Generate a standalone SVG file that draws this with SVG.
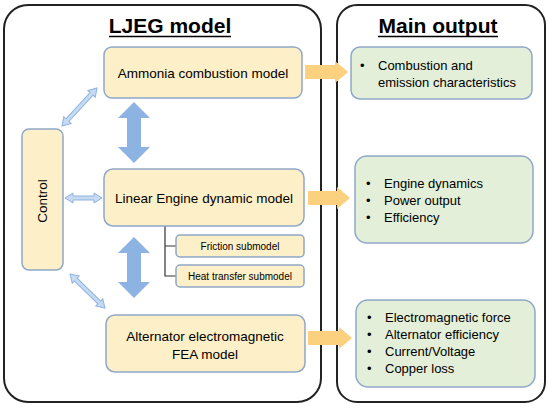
<svg xmlns="http://www.w3.org/2000/svg" width="550" height="410" viewBox="0 0 550 410">
<style>
.panel{fill:#fff;stroke:#222;stroke-width:2}
.ybox{fill:#fdefc7;stroke:#8fa8c8;stroke-width:1.5}
.gbox{fill:#e3efd9;stroke:#8fa8c8;stroke-width:1.5}
.t{font-family:"Liberation Sans",Arial,sans-serif;fill:#000}
.title{font-family:"Liberation Sans",Arial,sans-serif;font-weight:bold;font-size:21px;fill:#000}
.big{fill:#8db3e2}
.thin{fill:#c6daf2;stroke:#8db3e2;stroke-width:1}
.orange{fill:#fbd07e}
.tree{fill:none;stroke:#333;stroke-width:1.2}
</style>
<rect width="550" height="410" fill="#fff"/>
<g id="panel-ljeg">
<rect class="panel" x="4" y="5" width="317" height="397" rx="24"/>
<text class="title" x="170" y="33" text-anchor="middle">LJEG model</text>
<line x1="109" y1="36.5" x2="231" y2="36.5" stroke="#000" stroke-width="1.6"/>
</g>
<g id="panel-output">
<rect class="panel" x="337" y="5" width="208" height="397" rx="20"/>
<text class="title" x="438" y="33" text-anchor="middle">Main output</text>
<line x1="378" y1="36.5" x2="498" y2="36.5" stroke="#000" stroke-width="1.6"/>
</g>
<g id="connectors">
<polygon class="big" points="134,102 150,118 141,118 141,147 150,147 134,163 118,147 127,147 127,118 118,118"/>
<polygon class="big" points="134,237 150,253 141,253 141,282 150,282 134,298 118,282 127,282 127,253 118,253"/>
<g transform="translate(62,126) rotate(-47.4)"><polygon class="thin" points="0,0 8,-5 8,-2 43.7,-2 43.7,-5 51.7,0 43.7,5 43.7,2 8,2 8,5"/></g>
<g transform="translate(65,198)"><polygon class="thin" points="0,0 8,-5 8,-2 29,-2 29,-5 37,0 29,5 29,2 8,2 8,5"/></g>
<g transform="translate(70,274) rotate(44.2)"><polygon class="thin" points="0,0 8,-5 8,-2 40.8,-2 40.8,-5 48.8,0 40.8,5 40.8,2 8,2 8,5"/></g>
<path class="tree" d="M165,226 V276 H176 M165,246 H176"/>
<polygon class="orange" points="305,65 335,65 335,61 348,72 335,83 335,79 305,79"/>
<polygon class="orange" points="308,191 337,191 337,187 350,198 337,209 337,205 308,205"/>
<polygon class="orange" points="308,331 339,331 339,327 352,338 339,349 339,345 308,345"/>
</g>
<g id="ammonia">
<rect class="ybox" x="104" y="47" width="198" height="51" rx="8"/>
<text class="t" x="203" y="78" font-size="13.5" text-anchor="middle">Ammonia combustion model</text>
</g>
<g id="control">
<rect class="ybox" x="22" y="129" width="41" height="141" rx="7"/>
<text class="t" x="0" y="0" font-size="13.5" text-anchor="middle" transform="translate(47,201) rotate(-90)">Control</text>
</g>
<g id="linear">
<rect class="ybox" x="104" y="169" width="200" height="57" rx="9"/>
<text class="t" x="204" y="203" font-size="13.5" text-anchor="middle">Linear Engine dynamic model</text>
</g>
<g id="friction">
<rect class="ybox" x="176" y="235" width="128" height="22" rx="4"/>
<text class="t" x="240" y="250" font-size="10" text-anchor="middle">Friction submodel</text>
</g>
<g id="heat">
<rect class="ybox" x="176" y="265" width="128" height="22" rx="4"/>
<text class="t" x="240" y="280" font-size="10" text-anchor="middle">Heat transfer submodel</text>
</g>
<g id="alternator">
<rect class="ybox" x="106" y="315" width="199" height="57" rx="9"/>
<text class="t" x="205" y="341" font-size="13.5" text-anchor="middle">Alternator electromagnetic</text>
<text class="t" x="205" y="359" font-size="13.5" text-anchor="middle">FEA model</text>
</g>
<g id="out-combustion">
<rect class="gbox" x="351" y="47" width="181" height="52" rx="9"/>
<text class="t" x="360" y="70" font-size="13">•</text>
<text class="t" x="378" y="70" font-size="13">Combustion and</text>
<text class="t" x="378" y="87" font-size="13">emission characteristics</text>
</g>
<g id="out-engine">
<rect class="gbox" x="355" y="156" width="178" height="87" rx="12"/>
<text class="t" x="366" y="188" font-size="13">•</text>
<text class="t" x="384" y="188" font-size="13">Engine dynamics</text>
<text class="t" x="366" y="205" font-size="13">•</text>
<text class="t" x="384" y="205" font-size="13">Power output</text>
<text class="t" x="366" y="222" font-size="13">•</text>
<text class="t" x="384" y="222" font-size="13">Efficiency</text>
</g>
<g id="out-alternator">
<rect class="gbox" x="356" y="300" width="179" height="87" rx="12"/>
<text class="t" x="367" y="322" font-size="13">•</text>
<text class="t" x="385" y="322" font-size="13">Electromagnetic force</text>
<text class="t" x="367" y="339" font-size="13">•</text>
<text class="t" x="385" y="339" font-size="13">Alternator efficiency</text>
<text class="t" x="367" y="356" font-size="13">•</text>
<text class="t" x="385" y="356" font-size="13">Current/Voltage</text>
<text class="t" x="367" y="373" font-size="13">•</text>
<text class="t" x="385" y="373" font-size="13">Copper loss</text>
</g>
</svg>
